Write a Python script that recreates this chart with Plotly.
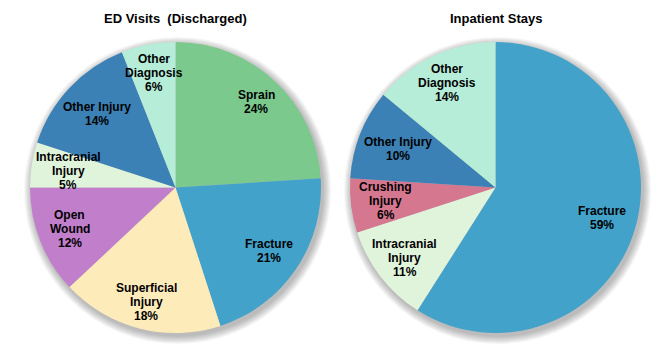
import math
import plotly.graph_objects as go

W, H = 658, 350

# ---- data ----
ed_labels = ["Sprain", "Fracture", "Superficial<br>Injury", "Open<br>Wound",
             "Intracranial<br>Injury", "Other Injury", "Other<br>Diagnosis"]
ed_values = [24, 21, 18, 12, 5, 14, 6]
ed_colors = ["#7BC98D", "#43A2CA", "#FEEBBA", "#C17FCB", "#E0F3DB", "#3B81B5", "#B6EDD8"]
ed_label_r = [0.81, 0.775, 0.81, 0.78, 0.745, 0.74, 0.80]

ip_labels = ["Fracture", "Intracranial<br>Injury", "Crushing<br>Injury",
             "Other Injury", "Other<br>Diagnosis"]
ip_values = [59, 11, 6, 10, 14]
ip_colors = ["#43A2CA", "#E0F3DB", "#D5778F", "#3B81B5", "#B6EDD8"]
ip_label_r = [0.76, 0.79, 0.76, 0.72, 0.79]

titles = ["ED Visits\u00a0 (Discharged)", "Inpatient Stays"]

# ---- layout geometry (pixels) ----
pies = [
    dict(cx=175.5, cy=187.5, r=145.5, labels=ed_labels, values=ed_values,
         colors=ed_colors, lr=ed_label_r, title=titles[0]),
    dict(cx=495.5, cy=187.5, r=145.5, labels=ip_labels, values=ip_values,
         colors=ip_colors, lr=ip_label_r, title=titles[1]),
]

fig = go.Figure()
shapes = []
annotations = []
FONT = "Liberation Sans, Arial, sans-serif"
LINE_H = 14

for p in pies:
    cx, cy, r = p["cx"], p["cy"], p["r"]
    # soft shadow
    for k in range(9, 0, -1):
        rr = r + k * 0.9
        shapes.append(dict(type="circle", xref="x", yref="y", layer="below",
                           x0=cx + 2 - rr, x1=cx + 2 + rr,
                           y0=cy + 3 - rr, y1=cy + 3 + rr,
                           fillcolor="rgba(0,0,0,0.03)", line=dict(width=0)))
    fig.add_trace(go.Pie(
        values=p["values"], labels=p["labels"], sort=False,
        direction="clockwise", rotation=0,
        marker=dict(colors=p["colors"], line=dict(width=0)),
        textinfo="none", hoverinfo="label+percent", showlegend=False,
        domain=dict(x=[(cx - r) / W, (cx + r) / W],
                    y=[1 - (cy + r) / H, 1 - (cy - r) / H]),
    ))
    total = sum(p["values"])
    cum = 0
    for lab, v, f in zip(p["labels"], p["values"], p["lr"]):
        mid = (cum + v / 2) / total * 2 * math.pi
        cum += v
        x = cx + f * r * math.sin(mid)
        y = cy - f * r * math.cos(mid)
        pct = round(v / total * 100)
        lines = lab.split("<br>") + [f"{pct}%"]
        n = len(lines)
        for i, ln in enumerate(lines):
            annotations.append(dict(
                x=x, y=y + (i - (n - 1) / 2) * LINE_H, xref="x", yref="y",
                showarrow=False, text=f"<b>{ln}</b>", align="center",
                font=dict(family=FONT, size=12, color="#000000"),
            ))
    annotations.append(dict(
        x=cx, y=18, xref="x", yref="y", showarrow=False,
        text=f"<b>{p['title']}</b>",
        font=dict(family=FONT, size=13, color="#000000"),
    ))

fig.update_layout(
    width=W, height=H,
    margin=dict(l=0, r=0, t=0, b=0),
    paper_bgcolor="white", plot_bgcolor="rgba(0,0,0,0)",
    xaxis=dict(range=[0, W], visible=False, fixedrange=True),
    yaxis=dict(range=[H, 0], visible=False, fixedrange=True),
    shapes=shapes, annotations=annotations,
)

fig.write_html("out.html")
